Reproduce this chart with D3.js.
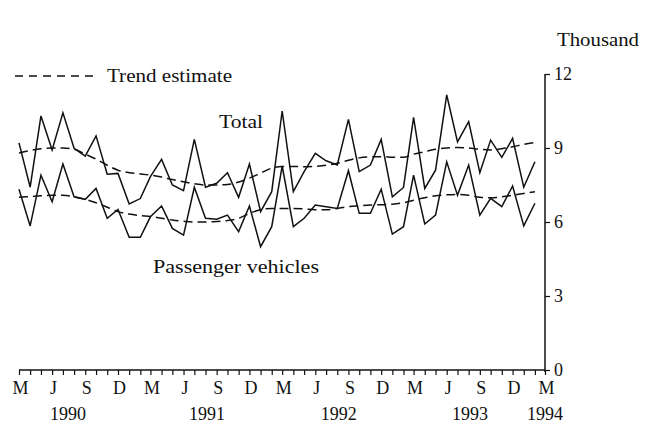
<!DOCTYPE html>
<html>
<head>
<meta charset="utf-8">
<script src="https://cdn.jsdelivr.net/npm/d3@7"></script>
<style>
  html, body { margin: 0; padding: 0; background: #fff; }
  svg { display: block; }
</style>
</head>
<body>
<svg id="chart" width="654" height="425"></svg>
<script>
// ---- Data (thousand vehicles, monthly, Mar 1990 – Feb 1994) ----
const startMonth = "1990-03";
const totalValues = [
  9.21, 7.41, 10.30, 8.92, 10.43, 8.99, 8.67, 9.49, 7.94, 7.97,
  6.73, 6.95, 7.84, 8.54, 7.50, 7.27, 9.35, 7.41, 7.57, 8.00, 7.00, 8.35,
  6.42, 7.23, 10.50, 7.23, 8.04, 8.78, 8.48, 8.31, 10.16, 8.04, 8.31, 9.35,
  7.02, 7.40, 10.24, 7.36, 8.10, 11.15, 9.25, 10.07, 8.00, 9.32, 8.62, 9.39,
  7.41, 8.44
];
const passengerValues = [
  7.33, 5.84, 7.90, 6.82, 8.35, 7.02, 6.92, 7.36, 6.15, 6.51,
  5.38, 5.38, 6.21, 6.65, 5.74, 5.47, 7.41, 6.15, 6.11, 6.28, 5.61, 6.65,
  5.00, 5.81, 8.27, 5.81, 6.15, 6.69, 6.62, 6.55, 8.08, 6.35, 6.35, 7.33,
  5.51, 5.81, 7.90, 5.92, 6.28, 8.44, 7.09, 8.31, 6.28, 6.96, 6.62, 7.46,
  5.84, 6.76
];
const totalTrend = [
  8.80, 8.90, 8.97, 9.00, 9.00, 8.95, 8.75, 8.55, 8.30, 8.10,
  8.00, 7.95, 7.90, 7.82, 7.72, 7.63, 7.55, 7.50, 7.50, 7.52, 7.62, 7.78,
  7.98, 8.18, 8.25, 8.25, 8.24, 8.26, 8.30, 8.38, 8.50, 8.60, 8.64, 8.65,
  8.63, 8.62, 8.75, 8.85, 8.95, 9.00, 9.02, 9.00, 8.95, 8.92, 8.97, 9.05,
  9.15, 9.22
];
const passengerTrend = [
  7.00, 7.03, 7.06, 7.08, 7.08, 7.02, 6.92, 6.78, 6.60, 6.42,
  6.32, 6.26, 6.22, 6.15, 6.08, 6.03, 6.00, 6.00, 6.02, 6.06, 6.15, 6.35,
  6.50, 6.55, 6.55, 6.55, 6.53, 6.50, 6.50, 6.55, 6.62, 6.66, 6.69, 6.70,
  6.72, 6.78, 6.88, 6.98, 7.06, 7.10, 7.12, 7.08, 7.00, 6.98, 7.02, 7.08,
  7.16, 7.23
];
const yTickValues = [0, 3, 6, 9, 12];
const monthLetters = ["J","F","M","A","M","J","J","A","S","O","N","D"];
const yearLabels = ["1990", "1991", "1992", "1993", "1994"];
const yearLabelDates = ["1990-07-15", "1991-08-05", "1992-08-05", "1993-08-05", "1994-03-01"];
const axisStart = "1990-03-01";
const axisEnd = "1994-03-01";

const FONT = "'Liberation Serif', 'Times New Roman', Times, serif";

// ---- Build ----
const parseMonth = d3.utcParse("%Y-%m");
const parseDay = d3.utcParse("%Y-%m-%d");
const months = totalValues.map((_, i) => d3.utcMonth.offset(parseMonth(startMonth), i));

const svg = d3.select("#chart");
const x = d3.scaleUtc().domain([parseDay(axisStart), parseDay(axisEnd)]).range([19, 545]);
const y = d3.scaleLinear().domain([0, 12]).range([370, 74]);

const lineLin = d3.line().x(d => x(d[0])).y(d => y(d[1]));
const lineSmooth = d3.line().x(d => x(d[0])).y(d => y(d[1])).curve(d3.curveMonotoneX);

function series(values) { return values.map((v, i) => [months[i], v]); }

const plot = svg.append("g");
[totalValues, passengerValues].forEach(vals => {
  plot.append("path")
    .attr("d", lineLin(series(vals)))
    .attr("fill", "none").attr("stroke", "#111").attr("stroke-width", 1.5);
});
[totalTrend, passengerTrend].forEach(vals => {
  plot.append("path")
    .attr("d", lineSmooth(series(vals)))
    .attr("fill", "none").attr("stroke", "#111").attr("stroke-width", 1.5)
    .attr("stroke-dasharray", "9,5");
});

// ---- Axes ----
const xAxis = d3.axisBottom(x)
  .ticks(d3.utcMonth.every(1))
  .tickSize(5).tickFormat("");
const gx = svg.append("g").attr("transform", "translate(0,370)").call(xAxis);
gx.select(".domain").attr("stroke", "#111").attr("stroke-width", 1.5).attr("d", "M19,0H545");
gx.selectAll(".tick line").attr("stroke", "#111").attr("stroke-width", 1.2);

const quarterTicks = d3.utcMonth.range(parseDay(axisStart), d3.utcDay.offset(parseDay(axisEnd), 1))
  .filter((d, i) => i % 3 === 0);
svg.append("g").selectAll("text").data(quarterTicks).join("text")
  .attr("x", d => x(d) + 1.5)
  .attr("y", 394)
  .attr("text-anchor", "middle")
  .attr("font-family", FONT).attr("font-size", 18).attr("fill", "#111")
  .text(d => monthLetters[d.getUTCMonth()]);

svg.append("g").selectAll("text").data(yearLabels).join("text")
  .attr("x", (d, i) => x(parseDay(yearLabelDates[i])))
  .attr("y", 420)
  .attr("text-anchor", "middle")
  .attr("font-family", FONT).attr("font-size", 18).attr("fill", "#111")
  .text(d => d);

const yAxis = d3.axisRight(y).tickValues(yTickValues).tickSize(5).tickPadding(4).tickFormat(d3.format("d"));
const gy = svg.append("g").attr("transform", "translate(545,0)").call(yAxis);
gy.attr("font-family", FONT).attr("font-size", 18);
gy.select(".domain").attr("stroke", "#111").attr("stroke-width", 1.5).attr("d", "M0,74V372");
gy.selectAll(".tick line").attr("stroke", "#111").attr("stroke-width", 1.2);
gy.selectAll(".tick text").attr("fill", "#111");

// ---- Labels ----
function label(txt, xPos, yPos, size, len) {
  svg.append("text").attr("x", xPos).attr("y", yPos)
    .attr("font-family", FONT).attr("font-size", size).attr("fill", "#111")
    .attr("textLength", len).attr("lengthAdjust", "spacingAndGlyphs").text(txt);
}
label("Thousand", 557, 46, 18, 82);

svg.append("line").attr("x1", 15).attr("x2", 99).attr("y1", 76).attr("y2", 76)
  .attr("stroke", "#111").attr("stroke-width", 1.3).attr("stroke-dasharray", "8,6");
label("Trend estimate", 107, 82, 19, 125);
label("Total", 219, 128, 19, 44);
label("Passenger vehicles", 153, 273, 19, 166);
</script>
</body>
</html>
